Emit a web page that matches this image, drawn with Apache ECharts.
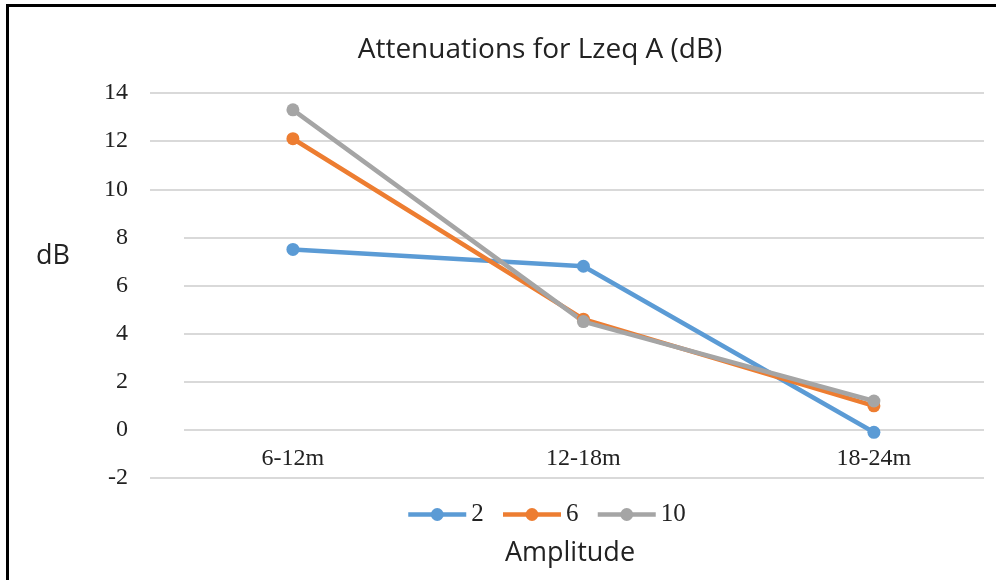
<!DOCTYPE html>
<html>
<head>
<meta charset="utf-8">
<title>Attenuations for Lzeq A (dB)</title>
<script src="https://cdn.jsdelivr.net/npm/echarts@6/dist/echarts.min.js"></script>
<style>
  html, body { margin: 0; padding: 0; background: #fff; }
  #main { width: 996px; height: 580px; }
</style>
</head>
<body>
<div id="main"></div>
<script>
// categories on the x axis
var categories = ['6-12m', '12-18m', '18-24m'];
// one line per amplitude
var amp2 = [7.5, 6.8, -0.1];
var amp6 = [12.1, 4.6, 1.0];
var amp10 = [13.3, 4.5, 1.2];
var seriesNames = ['2', '6', '10'];
var yTicks = [-2, 0, 2, 4, 6, 8, 10, 12, 14];

var colors = ['#5B9BD5', '#ED7D31', '#A5A5A5'];

function toPoints(arr) {
  return arr.map(function (v, i) { return [i, v]; });
}

var chart = echarts.init(document.getElementById('main'), null, { renderer: 'canvas' });

function makeLine(name, data, color) {
  return {
    name: name,
    type: 'line',
    data: toPoints(data),
    symbol: 'circle',
    symbolSize: 13,
    itemStyle: { color: color },
    lineStyle: { color: color, width: 4.5 },
    z: 5
  };
}

var option = {
  animation: false,
  color: colors,
  grid: {
    left: 150,
    right: 12,
    top: 93,
    bottom: 102,
    containLabel: false
  },
  legend: {
    data: seriesNames,
    left: 401,
    top: 497,
    itemWidth: 58,
    itemHeight: 16,
    itemGap: 17,
    lineStyle: { width: 4.5 },
    textStyle: {
      fontFamily: 'Liberation Serif',
      fontSize: 25,
      color: '#222'
    }
  },
  xAxis: {
    type: 'value',
    // categories sit at 0, 1, 2
    min: -0.492,
    max: 2.379,
    axisLine: { show: false, onZero: false },
    axisTick: { show: false },
    splitLine: { show: false },
    axisLabel: {
      customValues: [0, 1, 2],
      formatter: function (v) { return categories[Math.round(v)]; },
      fontFamily: 'Liberation Serif',
      fontSize: 24,
      color: '#222',
      // labels sit between the 0 and -2 lines, as in the original
      margin: -31
    }
  },
  yAxis: [{
    // labels only, drawn above the white box
    type: 'value',
    min: yTicks[0],
    max: yTicks[yTicks.length - 1],
    interval: 2,
    z: 3,
    axisLine: { show: false },
    axisTick: { show: false },
    splitLine: { show: false },
    axisLabel: {
      fontFamily: 'Liberation Serif',
      fontSize: 24,
      color: '#222',
      margin: 22
    }
  }, {
    // gridlines
    type: 'value',
    min: yTicks[0],
    max: yTicks[yTicks.length - 1],
    interval: 2,
    position: 'left',
    z: 0,
    axisLine: { show: false },
    axisTick: { show: false },
    axisLabel: { show: false },
    splitLine: { lineStyle: { color: '#d9d9d9', width: 2 } }
  }],
  graphic: [
    {
      type: 'rect',
      z: 1,
      shape: { x: 28, y: 215, width: 156, height: 228 },
      style: { fill: '#fff' }
    },
    {
      type: 'text',
      z: 10,
      x: 540,
      y: 50,
      style: {
        text: 'Attenuations for Lzeq A (dB)',
        fontFamily: 'Open Sans',
        fontSize: 28,
        fill: '#222',
        textAlign: 'center',
        textVerticalAlign: 'middle'
      }
    },
    {
      type: 'text',
      z: 10,
      x: 36,
      y: 256,
      style: {
        text: 'dB',
        fontFamily: 'Open Sans',
        fontSize: 27,
        fill: '#222',
        textAlign: 'left',
        textVerticalAlign: 'middle'
      }
    },
    {
      type: 'text',
      z: 10,
      x: 570,
      y: 553,
      style: {
        text: 'Amplitude',
        fontFamily: 'Open Sans',
        fontSize: 27,
        fill: '#222',
        textAlign: 'center',
        textVerticalAlign: 'middle'
      }
    },
    {
      // frame on top and left
      type: 'polyline',
      z: 10,
      shape: { points: [[7.5, 580], [7.5, 5.5], [996, 5.5]] },
      style: { stroke: '#000', lineWidth: 3, fill: null }
    }
  ],
  series: [
    makeLine(seriesNames[0], amp2, colors[0]),
    makeLine(seriesNames[1], amp6, colors[1]),
    makeLine(seriesNames[2], amp10, colors[2])
  ]
};

chart.setOption(option);
</script>
</body>
</html>
